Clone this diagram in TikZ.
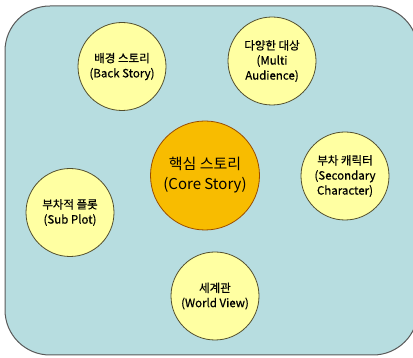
\documentclass[tikz,border=0pt]{standalone}
\usepackage{fontspec}
\setmainfont{Noto Sans CJK KR}
\newfontfamily\bubfont{Noto Sans CJK KR}[UprightFeatures={FakeBold=0.6}]
\begin{document}
\begin{tikzpicture}[x=1pt,y=-1pt,
  bubble/.style={circle,draw=black!55!olive,line width=0.8pt,fill=lightyel,minimum size=88pt,inner sep=0pt,align=center,font=\bubfont\fontsize{11.5}{15}\selectfont},
  core/.style={circle,draw=black!40!orange,line width=0.8pt,fill=coreor,minimum size=109pt,inner sep=0pt,align=center,font=\fontsize{15}{20}\selectfont}]
\definecolor{bg}{HTML}{B7DDE0}
\definecolor{lightyel}{HTML}{FFFFA2}
\definecolor{coreor}{HTML}{F8BC00}
\useasboundingbox (0,0) rectangle (413,358);
\begin{scope}
\clip (0,0) rectangle (413,358);
\draw[fill=bg,draw=black!65,line width=1pt,rounded corners=45pt] (5,6) rectangle (418,355);
\end{scope}
\node[bubble] (back) at (122,66.5) {배경 스토리\\(Back Story)};
\node[bubble] (multi) at (272,61) {다양한 대상\\(Multi\\Audience)};
\node[core] (core) at (205,175.5) {핵심 스토리\\(Core Story)};
\node[bubble] (second) at (345,176) {부차 캐릭터\\(Secondary\\Character)};
\node[bubble] (sub) at (70,212.5) {부차적 플롯\\(Sub Plot)};
\node[bubble] (world) at (215,296) {세계관\\(World View)};
\end{tikzpicture}
\end{document}
